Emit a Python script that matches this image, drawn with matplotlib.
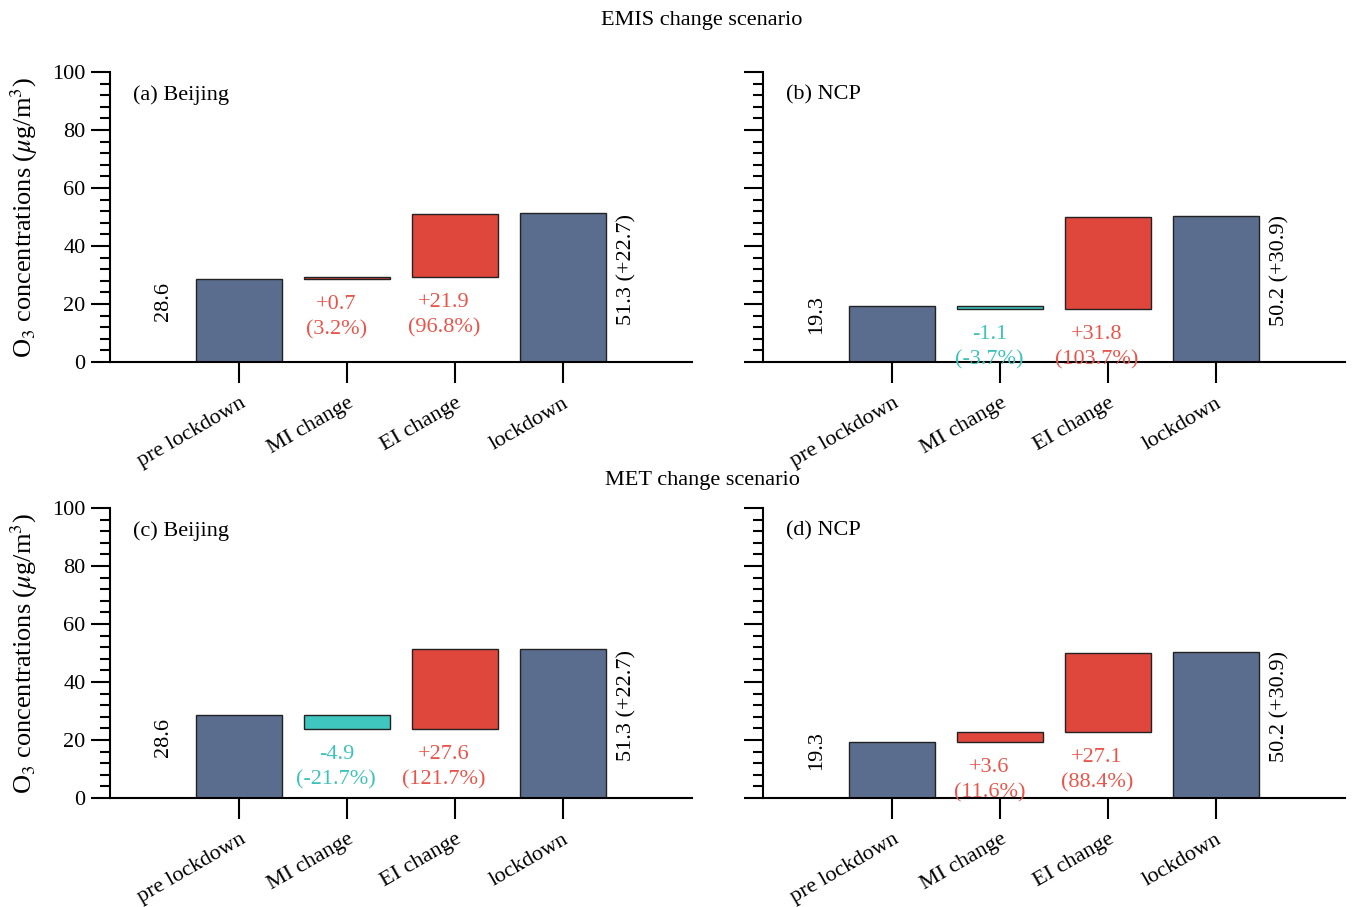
import numpy as np
import matplotlib.pyplot as plt
from matplotlib.ticker import MultipleLocator

plt.rcParams['font.family'] = ['Liberation Serif', 'DejaVu Serif']
plt.rcParams['mathtext.fontset'] = 'stix'

cats = ['pre lockdown', 'MI change', 'EI change', 'lockdown']
panel_names = ['(a) Beijing', '(b) NCP', '(c) Beijing', '(d) NCP']

# per panel: pre lockdown, MI change, EI change, lockdown, lockdown change
pre = [28.6, 19.3, 28.6, 19.3]
mi = [0.7, -1.1, -4.9, 3.6]
ei = [21.9, 31.8, 27.6, 27.1]
lock = [51.3, 50.2, 51.3, 50.2]
lock_chg = [22.7, 30.9, 22.7, 30.9]
mi_pct = ['3.2%', '-3.7%', '-21.7%', '11.6%']
ei_pct = ['96.8%', '103.7%', '121.7%', '88.4%']

c_blue = '#5b6d8f'
c_red = '#e0473c'
c_teal = '#3fc6bf'
t_red = '#e8554b'
t_teal = '#3fc2bc'

fig = plt.figure(figsize=(13.55, 9.07), dpi=100)
W, H = 1355, 907
boxes = [(110, 362), (763, 362), (110, 798), (763, 798)]

x = np.arange(4)
for i in range(4):
    l, b = boxes[i]
    ax = fig.add_axes([l / W, (H - b) / H, 582 / W, 290 / H])

    y1 = pre[i] + mi[i]
    y2 = y1 + ei[i]
    bottoms = [0, min(pre[i], y1), min(y1, y2), 0]
    heights = [pre[i], abs(mi[i]), abs(ei[i]), lock[i]]
    cols = [c_blue, c_red if mi[i] > 0 else c_teal, c_red if ei[i] > 0 else c_teal, c_blue]
    ax.bar(x, heights, bottom=bottoms, width=0.8, color=cols, edgecolor='#222222', linewidth=1)

    fs = 16
    ax.text(-0.7, pre[i] / 2, f'{pre[i]:.1f}', rotation=90, ha='center', va='bottom', fontsize=fs)
    ax.text(3.6, lock[i] / 4, f'{lock[i]:.1f} (+{lock_chg[i]:.1f})', rotation=90,
            ha='center', va='bottom', fontsize=fs)
    for j, (v, p, bt) in enumerate([(mi[i], mi_pct[i], bottoms[1]), (ei[i], ei_pct[i], bottoms[2])]):
        tc = t_red if v > 0 else t_teal
        ax.text(j + 1 - 0.1, bt - 5.5, f'{v:+.1f}\n({p})', ha='center', va='top',
                color=tc, fontsize=fs, linespacing=1.45)

    ax.text(0.04, 0.92, panel_names[i], transform=ax.transAxes, fontsize=fs, va='center')

    ax.set_xlim(-1.2, 4.2)
    ax.set_ylim(0, 100)
    ax.set_xticks(x)
    ax.set_xticklabels(cats, rotation=30, ha='right', rotation_mode='anchor', fontsize=fs)
    ax.set_yticks([0, 20, 40, 60, 80, 100])
    ax.yaxis.set_minor_locator(MultipleLocator(4))
    if i % 2 == 0:
        ax.tick_params(axis='y', labelsize=fs)
        ax.set_ylabel(r'O$_3$ concentrations ($\mu$g/m$^3$)', fontsize=19)
        ax.yaxis.set_label_coords(-0.12, 0.5)
    else:
        ax.tick_params(axis='y', labelleft=False)
    ax.tick_params(axis='y', which='major', length=14, width=1.5, direction='out')
    ax.tick_params(axis='y', which='minor', length=7, width=1.5, direction='out')
    ax.tick_params(axis='x', length=15, width=1.5, pad=8)
    ax.spines['top'].set_visible(False)
    ax.spines['right'].set_visible(False)
    ax.spines['left'].set_linewidth(1.5)
    ax.spines['bottom'].set_linewidth(1.5)

fig.text(702 / W, 1 - 20 / H, 'EMIS change scenario', ha='center', va='center', fontsize=16)
fig.text(702 / W, 1 - 480 / H, 'MET change scenario', ha='center', va='center', fontsize=16)

fig.savefig('out.png', dpi=100)
